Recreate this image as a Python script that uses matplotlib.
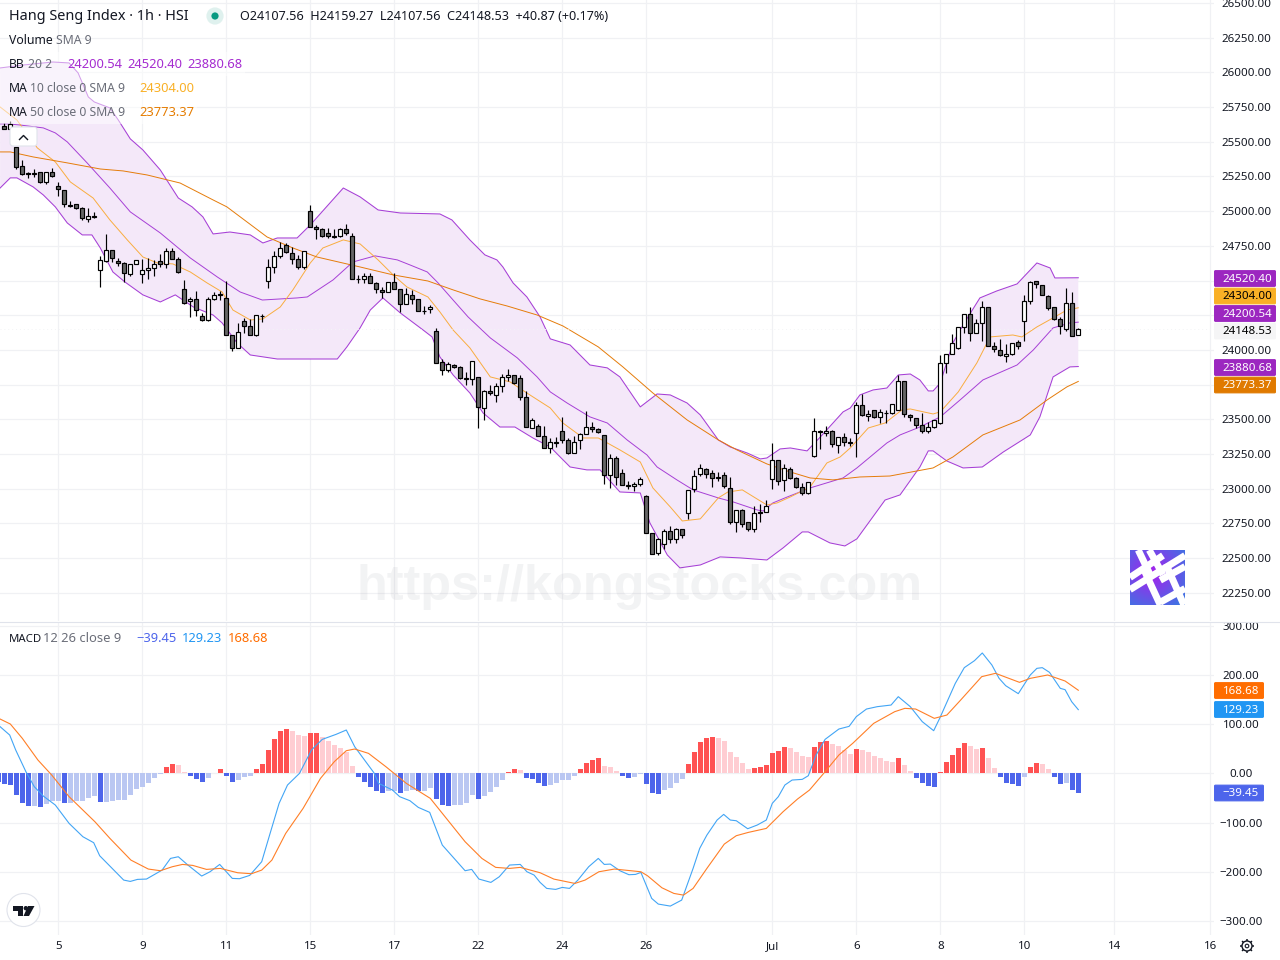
import numpy as np
import matplotlib
matplotlib.use('Agg')
import matplotlib.pyplot as plt
from matplotlib.patches import Circle, FancyBboxPatch, Polygon, Rectangle

plt.rcParams['font.family'] = ['Noto Sans', 'DejaVu Sans']

# Hourly candles, Hang Seng Index
opens = [25616, 25595, 25460, 25323, 25275, 25270, 25280, 25208, 25280, 25179,
         25150, 25042, 25054, 25025, 24946, 24968, 24574, 24641, 24718, 24639,
         24624, 24550, 24617, 24545, 24574, 24588, 24639, 24617, 24711, 24653,
         24437, 24350, 24365, 24242, 24213, 24365, 24401, 24372, 24105, 24012,
         24206, 24170, 24105, 24242, 24495, 24595, 24675, 24754, 24696, 24653,
         24595, 24999, 24884, 24869, 24840, 24819, 24823, 24869, 24819, 24514,
         24509, 24530, 24480, 24429, 24415, 24487, 24437, 24329, 24393, 24365,
         24283, 24293, 24139, 23911, 23853, 23889, 23875, 23795, 23788, 23803,
         23579, 23702, 23673, 23738, 23803, 23817, 23795, 23658, 23435, 23449,
         23377, 23291, 23334, 23413, 23348, 23255, 23348, 23392, 23442, 23428,
         23385, 23096, 23219, 23111, 23024, 23017, 23031, 22945, 22678, 22534,
         22599, 22693, 22635, 22707, 22822, 22995, 23104, 23140, 23111, 23082,
         23096, 23003, 22758, 22844, 22758, 22707, 22830, 22830, 23067, 23204,
         23060, 23140, 23075, 23010, 22967, 23233, 23413, 23399, 23413, 23312,
         23370, 23337, 23399, 23601, 23522, 23565, 23514, 23548, 23543, 23565,
         23774, 23529, 23507, 23457, 23413, 23442, 23471, 23903, 23968, 24011,
         24163, 24256, 24120, 24192, 24307, 24026, 23997, 23954, 23968, 24055,
         24206, 24350, 24494, 24465, 24386, 24307, 24220, 24148, 24336, 24107.56]
closes = [25595, 25628, 25316, 25265, 25265, 25274, 25208, 25280, 25251, 25157,
          25049, 25040, 25025, 24948, 24968, 24956, 24650, 24718, 24660, 24624,
          24552, 24617, 24650, 24574, 24588, 24617, 24617, 24711, 24653, 24559,
          24341, 24365, 24285, 24213, 24365, 24394, 24394, 24105, 24012, 24127,
          24170, 24105, 24249, 24244, 24595, 24675, 24732, 24703, 24653, 24595,
          24711, 24884, 24869, 24823, 24819, 24816, 24869, 24840, 24509, 24511,
          24530, 24480, 24437, 24415, 24487, 24437, 24329, 24401, 24365, 24278,
          24278, 24307, 23903, 23853, 23896, 23875, 23795, 23788, 23918, 23586,
          23702, 23687, 23738, 23803, 23817, 23759, 23658, 23442, 23493, 23377,
          23291, 23334, 23327, 23348, 23255, 23334, 23392, 23442, 23428, 23406,
          23096, 23219, 23082, 23024, 23017, 23031, 23067, 22678, 22527, 22635,
          22693, 22635, 22707, 22664, 22988, 23089, 23147, 23104, 23075, 23078,
          23017, 22758, 22844, 22743, 22707, 22822, 22827, 22873, 23204, 23053,
          23147, 23075, 23010, 22967, 23046, 23413, 23406, 23413, 23320, 23370,
          23334, 23332, 23601, 23529, 23536, 23514, 23550, 23545, 23608, 23774,
          23536, 23514, 23457, 23413, 23442, 23493, 23903, 23968, 24047, 24163,
          24256, 24120, 24192, 24307, 24026, 24004, 23961, 23968, 24047, 24026,
          24350, 24487, 24473, 24393, 24300, 24220, 24170, 24336, 24098, 24148.53]
highs = [25633, 25650, 25460, 25369, 25285, 25302, 25280, 25284, 25309, 25210,
         25150, 25076, 25054, 25030, 25020, 24992, 24677, 24833, 24718, 24663,
         24631, 24617, 24650, 24653, 24660, 24646, 24689, 24732, 24732, 24667,
         24504, 24384, 24422, 24264, 24384, 24415, 24425, 24494, 24105, 24192,
         24228, 24220, 24249, 24256, 24653, 24711, 24775, 24768, 24739, 24682,
         24711, 25042, 24898, 24876, 24876, 24869, 24876, 24905, 24840, 24540,
         24552, 24552, 24490, 24451, 24487, 24552, 24437, 24444, 24429, 24365,
         24319, 24321, 24156, 23932, 23911, 23896, 23882, 23839, 23918, 23803,
         23709, 23745, 23759, 23824, 23860, 23817, 23817, 23702, 23507, 23464,
         23449, 23363, 23370, 23514, 23363, 23377, 23399, 23557, 23478, 23435,
         23385, 23248, 23233, 23140, 23053, 23046, 23082, 22952, 22678, 22642,
         22707, 22729, 22714, 22707, 22988, 23132, 23176, 23147, 23132, 23118,
         23118, 23082, 22844, 22851, 22758, 22873, 22887, 22919, 23329, 23204,
         23176, 23154, 23082, 23039, 23046, 23507, 23423, 23449, 23420, 23370,
         23399, 23363, 23622, 23680, 23565, 23565, 23572, 23565, 23608, 23817,
         23774, 23536, 23507, 23543, 23478, 23493, 23961, 23968, 24115, 24163,
         24256, 24307, 24220, 24350, 24307, 24055, 24076, 24040, 24047, 24069,
         24393, 24494, 24494, 24465, 24393, 24307, 24235, 24444, 24415, 24159.27]
lows = [25590, 25590, 25302, 25260, 25241, 25249, 25205, 25196, 25249, 25109,
        25032, 25028, 25013, 24936, 24924, 24953, 24456, 24636, 24636, 24607,
        24487, 24535, 24617, 24485, 24509, 24533, 24595, 24593, 24653, 24557,
        24329, 24240, 24247, 24206, 24206, 24358, 24358, 24105, 23995, 24012,
        24120, 24105, 24098, 24199, 24444, 24552, 24660, 24696, 24622, 24581,
        24581, 24884, 24797, 24816, 24804, 24809, 24811, 24826, 24509, 24480,
        24485, 24480, 24408, 24372, 24415, 24437, 24271, 24329, 24329, 24278,
        24256, 24268, 23903, 23819, 23839, 23867, 23788, 23747, 23747, 23440,
        23495, 23673, 23627, 23697, 23778, 23752, 23637, 23442, 23435, 23377,
        23291, 23255, 23303, 23327, 23248, 23255, 23288, 23392, 23409, 23404,
        23031, 23003, 23024, 23024, 22995, 22981, 23017, 22678, 22527, 22520,
        22563, 22606, 22611, 22642, 22784, 22974, 23089, 23075, 23010, 23053,
        23003, 22743, 22686, 22726, 22693, 22686, 22758, 22830, 22995, 23024,
        22981, 23067, 23003, 22952, 22959, 23226, 23288, 23377, 23303, 23260,
        23305, 23310, 23226, 23522, 23485, 23507, 23471, 23471, 23536, 23565,
        23514, 23485, 23435, 23399, 23404, 23435, 23464, 23831, 23968, 24004,
        24120, 24064, 24120, 24067, 24026, 23987, 23954, 23915, 23961, 24004,
        24062, 24329, 24444, 24393, 24288, 24216, 24115, 24139, 24098, 24107.56]

# Bollinger bands, (bar, price) pairs
bb_upper_bar = [-0.7, 3.3, 8.1, 10.8, 12.3, 14, 15, 17.6, 19, 21, 23.1, 26, 29, 31.3, 33.1, 34.8, 37.6, 41, 43.1, 45.5,
                48.8, 51, 56.5, 59.3, 62.3, 66, 72.6, 74.6, 77.6, 80.1, 82.1, 83.1, 84.8, 87.1, 89.3, 91, 94.3, 97.6,
                100.5, 102.6, 106, 108.8, 111, 113.8, 116, 119, 121, 123.8, 126, 127.1, 129.3, 131, 133.8, 136, 139.8,
                141, 142.6, 144.8, 147.1, 149, 151, 152.6, 154, 154.8, 156, 158.1, 160.1, 162.6, 165.4, 168.8, 172.1,
                174.3, 175.1, 179]
bb_upper = [26032, 26054, 26075, 26068, 25996, 25823, 25787, 25744, 25657, 25521, 25441, 25297, 25095, 25031, 24959,
            24836, 24850, 24829, 24771, 24807, 24807, 24901, 25167, 25103, 25009, 24987, 24980, 24937, 24793, 24685,
            24649, 24598, 24483, 24382, 24238, 24080, 24036, 23892, 23871, 23806, 23590, 23683, 23676, 23618, 23532,
            23352, 23301, 23258, 23215, 23222, 23287, 23294, 23273, 23373, 23554, 23582, 23676, 23712, 23726, 23820,
            23827, 23784, 23705, 23705, 23762, 24051, 24202, 24375, 24425, 24476, 24627, 24591, 24519, 24520.40]
bb_basis_bar = [-0.7, 0.6, 2.6, 6.5, 8.5, 10.5, 13.8, 17.6, 21, 26, 31, 35.5, 39.3, 43, 48.8, 50.5, 54.8, 58.1, 61.8,
                65.5, 67.6, 70.5, 72.3, 74.8, 77.3, 81, 85.5, 88.8, 91, 93.8, 97.6, 100.5, 103.8, 107.1, 108.8, 112.1,
                114.8, 119, 121.5, 125.5, 126.5, 128.1, 130.5, 134.3, 139.8, 142.1, 144.3, 147.1, 149.3, 152.6, 156,
                159.3, 163.1, 168.8, 171.5, 174.8, 177.6, 179]
bb_basis = [25629, 25629, 25621, 25600, 25564, 25499, 25348, 25167, 24995, 24843, 24663, 24526, 24418, 24360, 24375,
            24382, 24505, 24634, 24678, 24649, 24613, 24562, 24483, 24360, 24238, 24087, 23943, 23806, 23698, 23618,
            23518, 23474, 23352, 23244, 23157, 23064, 22992, 22934, 22905, 22847, 22840, 22898, 22941, 23006, 23078,
            23150, 23229, 23330, 23388, 23445, 23518, 23640, 23784, 23892, 24000, 24159, 24195, 24200.54]
bb_lower_bar = [-0.7, 1, 2.1, 4.8, 6.5, 8.5, 10.5, 13, 14.6, 16, 18.1, 20.1, 23.1, 26, 28.5, 31.5, 34.8, 36.3, 38.8, 41,
                45.5, 50.5, 55.5, 57.1, 59.3, 61, 63.1, 66, 69.8, 71.3, 72.6, 74.8, 77.6, 79.8, 82.6, 85.1, 88.1, 91,
                94.3, 97.1, 99.3, 102.6, 106, 107.6, 110.5, 112.6, 116, 119.3, 122.6, 127.1, 129.8, 133, 134, 137.6,
                140.1, 142.1, 146.8, 149.3, 152.6, 154, 154.8, 157.1, 159.8, 163, 166.5, 171, 172.6, 174.8, 177.6, 179]
bb_lower = [25167, 25240, 25240, 25175, 25117, 25031, 24915, 24829, 24829, 24735, 24562, 24490, 24397, 24346, 24397,
            24310, 24252, 24195, 24051, 23964, 23935, 23935, 23935, 24022, 24159, 24288, 24375, 24267, 24144, 24094,
            23950, 23820, 23690, 23546, 23445, 23445, 23366, 23301, 23157, 23136, 23136, 22977, 22970, 22754, 22523,
            22430, 22451, 22509, 22502, 22487, 22574, 22689, 22689, 22610, 22588, 22639, 22919, 22956, 23157, 23273,
            23273, 23200, 23150, 23157, 23265, 23388, 23518, 23806, 23878, 23880.68]

# Moving averages
ma10_bar = [-0.7, 2.1, 5.5, 8.5, 11, 14.8, 17.6, 20.5, 23.1, 25.5, 28.1, 31, 33.8, 36.3, 38.1, 41, 43.1, 46, 48.1, 51,
            53.1, 56.5, 59.3, 62.3, 64.8, 67.1, 70.6, 72.6, 74.8, 77.6, 81, 84.3, 87.1, 91, 93.1, 96.5, 99, 102.6, 106,
            108.1, 111, 113, 116, 119, 120.6, 123, 127.1, 128.8, 131, 134.3, 137.1, 139.3, 141, 144, 146.8, 149.6, 151,
            154.8, 156, 159, 162.1, 164.3, 168.1, 169.6, 172.1, 174.8, 177.1, 179]
ma10 = [25751, 25657, 25456, 25355, 25211, 25095, 24937, 24793, 24670, 24627, 24620, 24562, 24483, 24418, 24288, 24216,
        24224, 24310, 24433, 24627, 24735, 24793, 24764, 24649, 24541, 24454, 24382, 24274, 24144, 24015, 23806, 23770,
        23690, 23582, 23474, 23366, 23366, 23280, 23193, 23006, 22869, 22768, 22783, 22934, 22977, 22992, 22883, 22898,
        22941, 23013, 23186, 23229, 23294, 23438, 23474, 23568, 23575, 23539, 23554, 23698, 23907, 24094, 24108, 24094,
        24166, 24231, 24288, 24304.00]
ma50_bar = [-0.7, 1, 4.8, 10.5, 16, 19.8, 23.8, 29.3, 34.8, 37.1, 43.8, 48.1, 52.1, 59.3, 64.8, 70.6, 74.8, 79.3, 83.8,
            88.8, 93.1, 99, 103.1, 108.1, 113.8, 119, 122.1, 127.1, 131, 134.3, 138.1, 142.6, 147.6, 154.8, 158.1, 163.1,
            169.3, 173.8, 177.1, 179]
ma50 = [25427, 25427, 25391, 25348, 25304, 25290, 25261, 25203, 25081, 25031, 24814, 24735, 24670, 24598, 24541, 24497,
        24433, 24368, 24317, 24252, 24173, 24022, 23878, 23690, 23496, 23352, 23280, 23179, 23121, 23078, 23064, 23085,
        23092, 23150, 23229, 23388, 23496, 23640, 23734, 23773.37]

# MACD histogram, starts one bar before the first candle
macd_hist = [-17, -22, -24, -44, -60, -66, -66, -68, -62, -56, -56,
             -60, -60, -56, -56, -50, -46, -58, -58, -56, -54,
             -54, -44, -32, -28, -20, -9, -1.5, 13, 19, 17,
             3, -5, -12, -18, -9, 1, 9, -5, -18, -14,
             -7, -5, 9, 19, 47, 70, 86, 90, 86, 78,
             76, 81, 82, 74, 66, 58, 51, 43, 15, -7,
             -18, -28, -36, -40, -36, -36, -40, -36, -34, -36,
             -35, -30, -52, -64, -66, -64, -64, -60, -44, -52,
             -46, -38, -28, -14, 3, 9, 7, -9, -11.5, -20,
             -26, -24, -20, -14, -14, -5, 9, 21, 27, 31,
             15, 13, 5, -5, -9, -7, -1.5, -22, -40, -42,
             -34, -30, -20, -11.5, 19, 43, 64, 72, 74, 72,
             66, 43, 33, 21, 9, 11, 13, 17, 41, 45,
             53, 51, 43, 35, 33, 53, 64, 66, 60, 56,
             47, 39, 49, 47, 43, 35, 31, 25, 23, 31,
             17, 5, -9, -20, -26, -27, 3, 23, 37, 51,
             62, 56, 50, 51, 31, 11, -7, -20, -22, -26,
             -7, 13, 21, 19, 9, -7, -22, -20, -34, -39.45]
macd_bar = [-0.7, 0.9, 1.9, 3.6, 5, 6.5, 8.5, 10.8, 13.1, 14.9, 15.9, 19.9, 21, 22.2, 23.7, 26.3, 27.7, 29, 30.6, 32.9,
            34.3, 35.9, 38, 39.2, 40.9, 42.9, 44.3, 45.8, 47.2, 49.2, 51.2, 53, 55.3, 57, 58.4, 61.6, 62.4, 64.7, 65.9,
            67.6, 69, 70.9, 73, 76.8, 77.9, 79.1, 81.1, 82.5, 84.2, 86, 87.1, 88.3, 89.3, 90.4, 91.9, 93, 94.2, 95.6,
            97.4, 99, 100, 101, 102.6, 104.1, 105.2, 106.1, 107.9, 109, 111, 112.9, 114.8, 115.9, 117.1, 118.8, 119.9,
            121, 122, 123.9, 125.5, 127, 128, 129, 130.1, 131.3, 133, 134, 135.3, 136.8, 139.1, 140.8, 142, 143.7, 145.5,
            147.8, 149, 151, 153, 154.9, 155.9, 158.5, 160, 161.7, 163, 164.6, 165.8, 166.9, 169, 171, 172.1, 173, 174.2,
            176, 176.8, 177.9, 179]
macd_line = [94.7, 77.7, 47.3, 3.3, -27.2, -46.2, -64.4, -101.7, -128.8, -140.9, -167.4, -216.8, -219.5, -215.4, -214.7,
             -196.5, -172.8, -169.4, -186.3, -208.6, -199.8, -185, -213.4, -214, -207.3, -179.5, -122, -61, -23.8, -0.1,
             47.3, 68.9, 79.1, 87.9, 54, 1.2, -20.4, -34, -47.5, -55.6, -69.2, -79.3, -145.7, -197.8, -195.1, -214.7,
             -221.5, -210, -186.3, -185, -199.8, -206.6, -221.5, -233.7, -235.7, -231.7, -233.7, -216.8, -189.7, -172.8,
             -185, -184.3, -197.8, -205.9, -205.3, -201.2, -254, -265.5, -269.6, -257.4, -193.1, -152.5, -125.4, -94.9,
             -83.4, -94.9, -96.3, -112.5, -105, -94.9, -61, -47.5, -23.8, -13.7, -12.3, -4.9, 37.1, 68.9, 89.9, 95.3, 115,
             130.5, 135.3, 138.6, 155.6, 135.3, 104.8, 86.5, 111.6, 182.6, 214.5, 228.7, 244.3, 219.9, 192.8, 177.9, 161.7,
             199.6, 213.1, 214.5, 205, 172.5, 169.8, 145.4, 129.23]
signal_bar = [-0.7, 1, 3, 5.6, 7.9, 10.8, 15.1, 17.6, 21.1, 24, 26, 28, 29.7, 31.4, 33.7, 36, 38.9, 41.2, 42.9, 44.6,
              46.9, 49.8, 52.7, 55, 57, 58.4, 60.7, 63.6, 67, 71, 73.9, 76.8, 79.6, 81.9, 84.2, 86, 89.3, 91.6, 95.1,
              96.8, 99.1, 101.7, 106.1, 107.2, 109.6, 111.6, 113.2, 114.8, 117.1, 120, 122, 124, 127, 129.8, 132.2,
              134.2, 136.8, 139.1, 141.4, 144.9, 148.4, 150.1, 151.9, 155, 157.1, 159.4, 162.9, 165.2, 169.2, 171,
              173.9, 176.8, 179]
signal_line = [110.2, 100.1, 71, 27, -3.5, -47.5, -98.3, -132.1, -176.2, -194.4, -197.8, -189.7, -185, -187, -195.1,
               -193.1, -201.9, -203.9, -196.5, -176.2, -122, -71.2, -10.3, 23.6, 45.9, 49.3, 40.5, 13.4, -20.4, -50.9,
               -94.9, -138.9, -172.8, -191, -193.1, -191, -201.9, -214.8, -223.6, -216.8, -199.9, -194.4, -199.9, -208,
               -232.4, -243.9, -247.3, -233.7, -193.1, -143.7, -126.7, -120, -111.9, -78, -52.3, -34, 3.2, 37.1, 60.8,
               101.4, 125.1, 131.9, 130.5, 111.6, 118.3, 148.8, 196.2, 203, 184.7, 192.8, 199.6, 187.4, 168.68]

price_ticks = [22250 + 250 * k for k in range(18)]
hidden_price_labels = [24500, 24250, 23750]
macd_ticks = [-300, -200, -100, 0, 100, 200, 300]
date_bars = [9, 23, 37, 51, 65, 79, 93, 107, 128, 142, 156, 170, 185, 201]
date_labels = ['5', '9', '11', '15', '17', '22', '24', '26', 'Jul', '6', '8', '10', '14', '16']

GRID = '#f0f1f4'
TEXT = '#131722'
GRAY = '#6a6d78'
BB_COLOR = '#a63fd6'
BB_TEXT = '#a52bd0'
BB_TAG = '#9c27c0'
MA10_COLOR = '#f9ad3f'
MA50_COLOR = '#e57c0a'
MACD_COLOR = '#42a5f5'
SIGNAL_COLOR = '#ff7f27'

W, H = 1280, 960
fig = plt.figure(figsize=(12.8, 9.6), dpi=100, facecolor='white')


def pane(top, bottom):
    return fig.add_axes([0, 1 - bottom / H, 1214 / W, (bottom - top) / H])


ax = pane(0, 621)
ax_macd = pane(622, 935)

for a in (ax, ax_macd):
    a.set_xlim(-0.717, 201.62)
    for s in a.spines.values():
        s.set_visible(False)
    a.grid(True, color=GRID, lw=0.9)
    a.set_axisbelow(True)
    a.yaxis.tick_right()
    a.set_xticks(date_bars)
ax.set_ylim(22047.3, 26521.6)
ax_macd.set_ylim(-328.3, 307.2)

# price pane
ax.set_yticks(price_ticks)
ax.set_yticklabels(['' if p in hidden_price_labels else f'{p:.2f}' for p in price_ticks])
ax.tick_params(axis='y', length=0, pad=23.6, labelsize=8.3, labelcolor=TEXT)
ax.tick_params(axis='x', length=0, labelbottom=False)
for t in ax.get_yticklabels():
    t.set_ha('center')

ax.fill(np.r_[bb_upper_bar, bb_lower_bar[::-1]], np.r_[bb_upper, bb_lower[::-1]],
        color='#f4e8f9', lw=0, zorder=1)
ax.plot(bb_upper_bar, bb_upper, color=BB_COLOR, lw=0.75, zorder=2)
ax.plot(bb_lower_bar, bb_lower, color=BB_COLOR, lw=0.75, zorder=2)
ax.plot(bb_basis_bar, bb_basis, color=BB_COLOR, lw=0.7, zorder=2)
ax.plot(ma10_bar, ma10, color=MA10_COLOR, lw=0.7, zorder=2)
ax.plot(ma50_bar, ma50, color=MA50_COLOR, lw=0.7, zorder=2)
ax.axhline(closes[-1], color='#f3f4f6', lw=0.7, ls=(0, (1, 3)), zorder=2)

bars = np.arange(len(opens))
o, c = np.array(opens), np.array(closes)
ax.vlines(bars, lows, highs, color='black', lw=0.85, zorder=3)
ax.bar(bars, np.abs(c - o), bottom=np.minimum(o, c), width=0.68,
       color=['white' if up else '#666666' for up in c >= o],
       edgecolor='black', linewidth=0.85, zorder=4)

# macd pane
ax_macd.set_yticks(macd_ticks)
ax_macd.set_yticklabels([f'{v:.2f}'.replace('-', '\u2212') for v in macd_ticks])
ax_macd.tick_params(axis='y', length=0, pad=19.4, labelsize=8.3, labelcolor=TEXT)
for t in ax_macd.get_yticklabels():
    t.set_ha('center')
ax_macd.set_xticks(date_bars, date_labels)
ax_macd.tick_params(axis='x', length=0, pad=4.2, labelsize=8.3, labelcolor=TEXT)
ax_macd.get_xticklabels()[8].set_fontweight('bold')


def hist_color(cur, prev):
    if cur >= 0:
        return '#ff5252' if cur > prev else '#ffcdd2'
    return '#4d65eb' if cur < prev else '#bac7f2'


hist_colors = [hist_color(v, p) for v, p in zip(macd_hist, [0] + macd_hist[:-1])]
ax_macd.bar(np.arange(-1, len(macd_hist) - 1), macd_hist, width=0.84, color=hist_colors, zorder=2)
ax_macd.plot(macd_bar, macd_line, color=MACD_COLOR, lw=0.8, zorder=3)
ax_macd.plot(signal_bar, signal_line, color=SIGNAL_COLOR, lw=0.8, zorder=3)

# overlay in pixel coordinates for legends, value tags and badges
ui = fig.add_axes([0, 0, 1, 1], zorder=10)
ui.set_xlim(0, W)
ui.set_ylim(H, 0)
ui.axis('off')

ui.text(639, 587, 'https://kongstocks.com', family='Liberation Sans', weight='bold', fontsize=36.3,
        color='#787b86', alpha=0.09, ha='center', va='center')

# clears the top of the "300.00" label and draws the pane separator
ui.add_patch(Rectangle((1214, 612), 66, 9.5, fc='white', ec='none'))
ui.plot([0, W], [621.5, 621.5], color='#e0e3eb', lw=0.8)


def label(x, y, s, color=TEXT, size=8.8):
    ui.text(x, y + 1, s, color=color, fontsize=size, va='center', ha='left')


def tag(y, s, bg, fg='white', right=1276):
    ui.add_patch(FancyBboxPatch((1214.5, y - 7.9), right - 1215, 15.8, boxstyle='round,pad=0,rounding_size=1',
                                fc=bg, ec=bg, lw=0.7))
    ui.text((1214 + right) / 2 + 2, y + 0.8, s, color=fg, fontsize=8.3, va='center', ha='center')


# rows of the study legend sit on a translucent white strip
for top, right in [(52, 245), (76, 197), (100, 197)]:
    ui.add_patch(Rectangle((0, top), right, 24, fc='white', ec='none', alpha=0.5))

label(9, 16, 'Hang Seng Index \u00b7 1h \u00b7 HSI', size=10.4)
ui.add_patch(Circle((215, 16), 8.6, fc='#dff1ee', ec='none'))
ui.add_patch(Circle((215, 16), 3.6, fc='#089981', ec='none'))
label(240, 16, 'O24107.56  H24159.27  L24107.56  C24148.53  +40.87 (+0.17%)', size=9.1)
label(9, 40, 'Volume')
label(56, 40, 'SMA 9', GRAY)
label(9, 64, 'BB')
label(28, 64, '20 2', GRAY)
label(67, 64, '24200.54', BB_TEXT, 9.3)
label(127, 64, '24520.40', BB_TEXT, 9.3)
label(187, 64, '23880.68', BB_TEXT, 9.3)
label(9, 88, 'MA')
label(30, 88, '10 close 0 SMA 9', GRAY)
label(139, 88, '24304.00', '#f9b026', 9.3)
label(9, 112, 'MA')
label(30, 112, '50 close 0 SMA 9', GRAY)
label(139, 112, '23773.37', '#e57c00', 9.3)
label(9, 638, 'MACD', size=8.2)
label(43, 638, '12 26 close 9', GRAY, 9.3)
label(136, 638, '\u221239.45', '#4d65eb', 9.3)
label(182, 638, '129.23', '#2196f3', 9.3)
label(228, 638, '168.68', '#ff6d00', 9.3)

# value tags on the scale
tag(278.5, '24520.40', BB_TAG)
tag(296, '24304.00', '#f9b026', 'black')
tag(313.5, '24200.54', BB_TAG)
tag(331, '24148.53', '#f5f5f6', 'black')
tag(367.5, '23880.68', BB_TAG)
tag(385, '23773.37', '#e07a00')
tag(690.5, '168.68', '#ff6d00', right=1264)
tag(709.5, '129.23', '#2196f3', right=1264)
tag(793, '\u221239.45', '#4d65eb', right=1264)

# collapse button
ui.add_patch(FancyBboxPatch((10, 127), 27, 19, boxstyle='round,pad=0,rounding_size=3', fc='white', ec='#e0e3eb', lw=0.8))
ui.plot([19.5, 23.5, 27.5], [139.5, 135.5, 139.5], color=TEXT, lw=1)

# badge bottom left
ui.add_patch(Circle((23.5, 910), 16.5, fc='white', ec='#e0e3eb', lw=0.8))
ui.add_patch(Polygon([(13, 906), (22.5, 906), (22.5, 916), (17.5, 916), (17.5, 911), (13, 911)], fc=TEXT, ec='none'))
ui.add_patch(Polygon([(28, 906), (34.5, 906), (29, 916), (23.5, 916)], fc=TEXT, ec='none'))
ui.add_patch(Circle((25.8, 908.2), 2.2, fc=TEXT, ec='none'))

# settings gear, a ring with short teeth
ui.add_patch(Circle((1247, 946), 5, fc='none', ec=TEXT, lw=1))
ui.add_patch(Circle((1247, 946), 1.8, fc='none', ec=TEXT, lw=0.8))
for ang in np.arange(8) * np.pi / 4:
    ui.plot([1247 + 5 * np.cos(ang), 1247 + 7 * np.cos(ang)],
            [946 + 5 * np.sin(ang), 946 + 7 * np.sin(ang)], color=TEXT, lw=1.1, solid_capstyle='butt')

# square logo on the right of the price pane
logo = fig.add_axes([1130 / W, 1 - 605 / H, 55 / W, 55 / H], zorder=9)
gx, gy = np.meshgrid(np.linspace(0, 1, 64), np.linspace(0, 1, 64))
dist = np.clip(np.hypot(gx - 0.4, gy - 0.42) / 0.75, 0, 1)[..., None]
logo.imshow(np.array([0.66, 0.12, 0.93]) * (1 - dist) + np.array([0.25, 0.45, 0.89]) * dist,
            extent=(0, 1, 1, 0), aspect='auto')
strokes = [(0, 0.50, 0.60, 0.10), (0.15, 0, 0.38, 0.48), (0.35, 0, 0.60, 0.45), (0, 0.72, 1, 0.10),
           (0.25, 0.35, 0.55, 1), (0.55, 0.55, 1, 0.30), (0.55, 0.95, 1, 0.70), (0.65, 0.25, 0.98, 1)]
for x0, y0, x1, y1 in strokes:
    logo.plot([x0, x1], [y0, y1], color='white', lw=5, solid_capstyle='butt')
logo.set_xlim(0, 1)
logo.set_ylim(1, 0)
logo.axis('off')

fig.savefig('out.png', dpi=100)
